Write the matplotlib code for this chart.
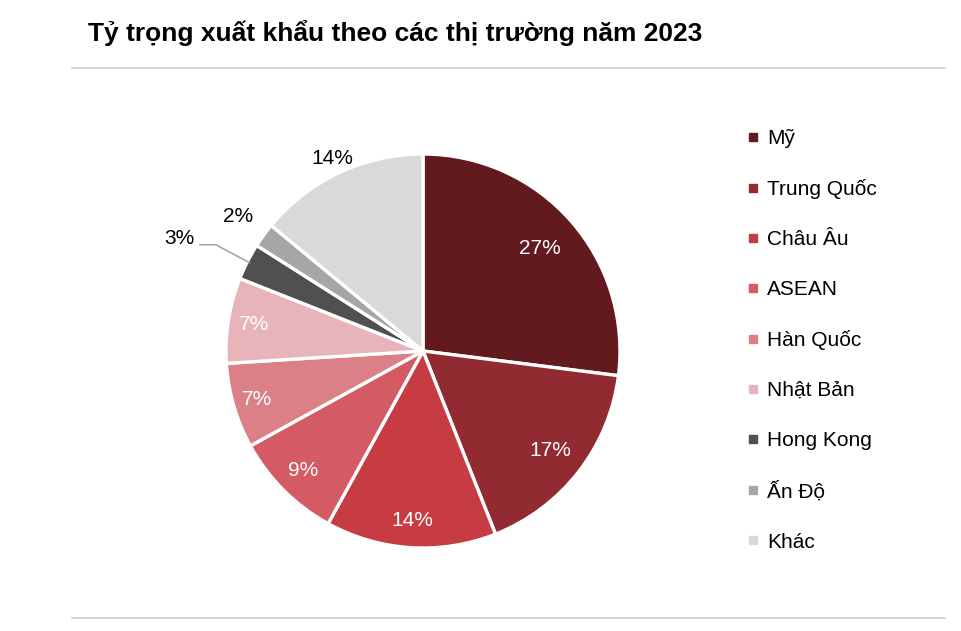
import matplotlib
matplotlib.use("Agg")
import matplotlib.pyplot as plt
import numpy as np
from matplotlib.lines import Line2D

plt.rcParams['font.family'] = ['Liberation Sans Narrow', 'Liberation Sans', 'DejaVu Sans']

title = "Tỷ trọng xuất khẩu theo các thị trường năm 2023"
markets = ["Mỹ", "Trung Quốc", "Châu Âu", "ASEAN", "Hàn Quốc", "Nhật Bản", "Hong Kong", "Ấn Độ", "Khác"]
shares = [27, 17, 14, 9, 7, 7, 3, 2, 14]
colors = ["#621a1f", "#922a31", "#c73b43", "#d45a63", "#dc8088", "#e8b4bb", "#505050", "#a6a6a6", "#d9d9d9"]
inside = [True, True, True, True, True, True, False, False, False]

fig = plt.figure(figsize=(9.62, 6.31), dpi=100)
W, H = 962, 631

# title and rules
fig.text(88 / W, 1 - 33 / H, title, fontsize=19, fontweight='bold', va='center', ha='left', color='#000000')
fig.add_artist(Line2D([72 / W, 945 / W], [1 - 68 / H, 1 - 68 / H], color='#d0d0d0', lw=1.2))
fig.add_artist(Line2D([72 / W, 945 / W], [1 - 618 / H, 1 - 618 / H], color='#d0d0d0', lw=1.2))

# pie axes
cx, cy, r = 423, 351, 197
ax = fig.add_axes([(cx - r) / W, (H - cy - r) / H, 2 * r / W, 2 * r / H])
wedges, _ = ax.pie(shares, colors=colors, startangle=90, counterclock=False, radius=1,
                   wedgeprops=dict(edgecolor='white', linewidth=2.4))
ax.set_xlim(-1, 1)
ax.set_ylim(-1, 1)
ax.set_aspect('equal')
ax.axis('off')

total = sum(shares)
start = 90.0
in_dist = [0.79, 0.82, 0.86, 0.86, 0.88, 0.87]
k = 0
for i, (v, ins) in enumerate(zip(shares, inside)):
    ang = start - v / total * 360 / 2
    start -= v / total * 360
    a = np.deg2rad(ang)
    lab = f"{v}%"
    if ins:
        d = in_dist[k]; k += 1
        ax.text(d * np.cos(a), d * np.sin(a), lab, color='white', fontsize=15, ha='center', va='center')
    else:
        if markets[i] == "Hong Kong":
            x0, y0 = 0.99 * np.cos(a), 0.99 * np.sin(a)
            x1, y1 = x0 - 0.17, y0 + 0.09
            x2 = x1 - 0.08
            ax.plot([x0, x1, x2], [y0, y1, y1], color='#a6a6a6', lw=1.2, clip_on=False)
            ax.text(x2 - 0.03, y1 + 0.03, lab, fontsize=15, ha='right', va='center', color='black')
        elif markets[i] == "Ấn Độ":
            d = 1.16
            ax.text(d * np.cos(a), d * np.sin(a), lab, fontsize=15, ha='center', va='center', color='black')
        else:
            d = 1.08
            ax.text(d * np.cos(a), d * np.sin(a), lab, fontsize=15, ha='center', va='center', color='black')

handles = [Line2D([], [], marker='s', linestyle='none', markersize=5.8, markerfacecolor=c, markeredgecolor=c)
           for c in colors]
fig.legend(handles, markets, loc='upper left', bbox_to_anchor=(747 / W, 1 - 129 / H), frameon=False,
           fontsize=15, labelspacing=1.49, handlelength=0.6, handletextpad=0.36, borderpad=0,
           borderaxespad=0)

fig.savefig("out.png", dpi=100, facecolor='white')
